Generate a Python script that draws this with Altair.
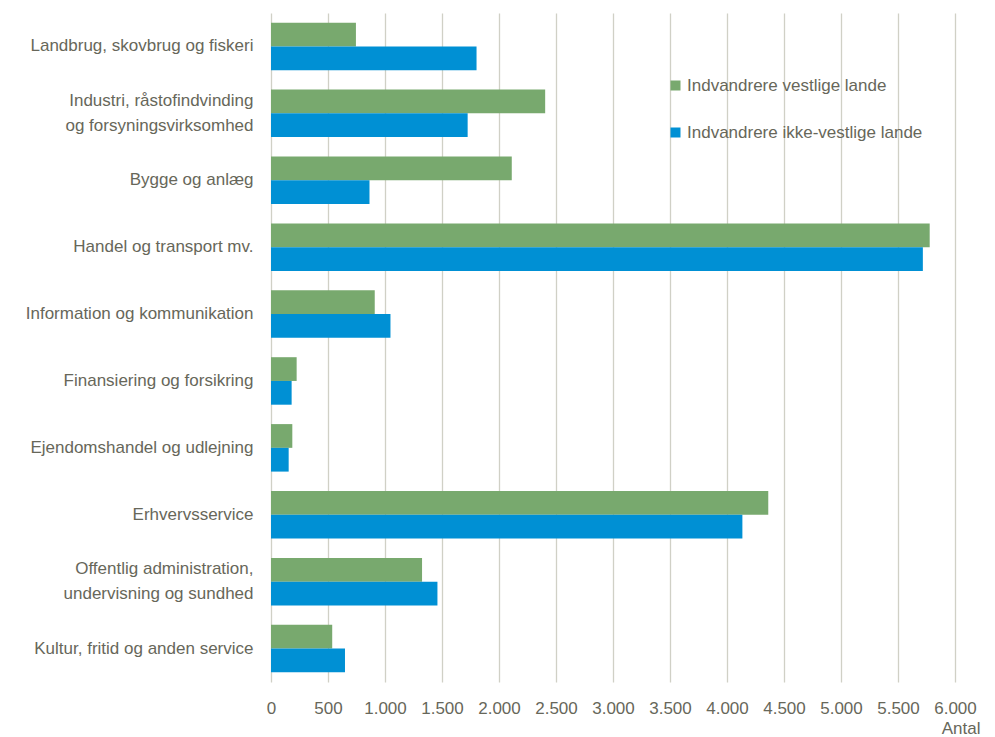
import altair as alt
import pandas as pd

categories = [
    "Landbrug, skovbrug og fiskeri",
    "Industri, råstofindvinding\nog forsyningsvirksomhed",
    "Bygge og anlæg",
    "Handel og transport mv.",
    "Information og kommunikation",
    "Finansiering og forsikring",
    "Ejendomshandel og udlejning",
    "Erhvervsservice",
    "Offentlig administration,\nundervisning og sundhed",
    "Kultur, fritid og anden service",
]
series = ["Indvandrere vestlige lande", "Indvandrere ikke-vestlige lande"]
vestlige = [745, 2405, 2112, 5778, 910, 225, 187, 4362, 1325, 537]
ikke_vestlige = [1803, 1725, 864, 5718, 1048, 181, 155, 4135, 1460, 649]
ticks = list(range(0, 6001, 500))

rows = []
for c, v1, v2 in zip(categories, vestlige, ikke_vestlige):
    rows.append({"kategori": c, "serie": series[0], "antal": v1})
    rows.append({"kategori": c, "serie": series[1], "antal": v2})
df = pd.DataFrame(rows)

FONT = "Liberation Sans"
TXT = "#67675a"
FS = 17

chart = (
    alt.Chart(df)
    .mark_bar()
    .encode(
        y=alt.Y(
            "kategori:N",
            sort=categories,
            scale=alt.Scale(paddingInner=0.29, paddingOuter=0.145),
            axis=alt.Axis(
                title=None,
                domain=False,
                ticks=False,
                labelPadding=18,
                labelExpr="split(datum.label, '\\n')",
                labelLineHeight=25,
                labelOffset={
                    "condition": {"test": "indexof(datum.value, '\\n') >= 0", "value": -12.5},
                    "value": 0,
                },
                labelFontSize=FS,
                labelFont=FONT,
                labelColor=TXT,
                labelLimit=400,
            ),
        ),
        yOffset=alt.YOffset("serie:N", sort=series),
        x=alt.X(
            "antal:Q",
            scale=alt.Scale(domain=[0, 6000], nice=False),
            axis=alt.Axis(
                values=ticks,
                title="Antal",
                titleAnchor="end",
                titleAlign="right",
                titleX=709,
                titleY=46,
                titleBaseline="middle",
                titleFontWeight="normal",
                titleFontSize=FS,
                titleFont=FONT,
                titleColor=TXT,
                domain=False,
                ticks=False,
                tickSize=0,
                labelBaseline="middle",
                labelPadding=26,
                labelOverlap=False,
                labelFlush=False,
                labelExpr="replace(format(datum.value, ','), ',', '.')",
                labelFontSize=FS,
                labelFont=FONT,
                labelColor=TXT,
                grid=True,
                gridColor="#d0d0c6",
                gridWidth=1.3,
            ),
        ),
        color=alt.Color(
            "serie:N",
            sort=series,
            scale=alt.Scale(domain=series, range=["#78a96e", "#0090d4"]),
            legend=alt.Legend(
                title=None,
                orient="none",
                legendX=396,
                legendY=64,
                symbolType="square",
                symbolSize=100,
                symbolStrokeWidth=0,
                labelOffset=3,
                labelFontSize=FS,
                labelFont=FONT,
                labelColor=TXT,
                rowPadding=29,
                labelLimit=400,
            ),
        ),
    )
    .properties(
        width=684,
        height=669,
        autosize=alt.AutoSizeParams(type="none"),
        padding={"left": 263, "top": 5, "right": 30, "bottom": 55},
    )
    .configure_view(stroke=None)
)

chart.save("out.html", embed_options={"renderer": "svg", "actions": False})
